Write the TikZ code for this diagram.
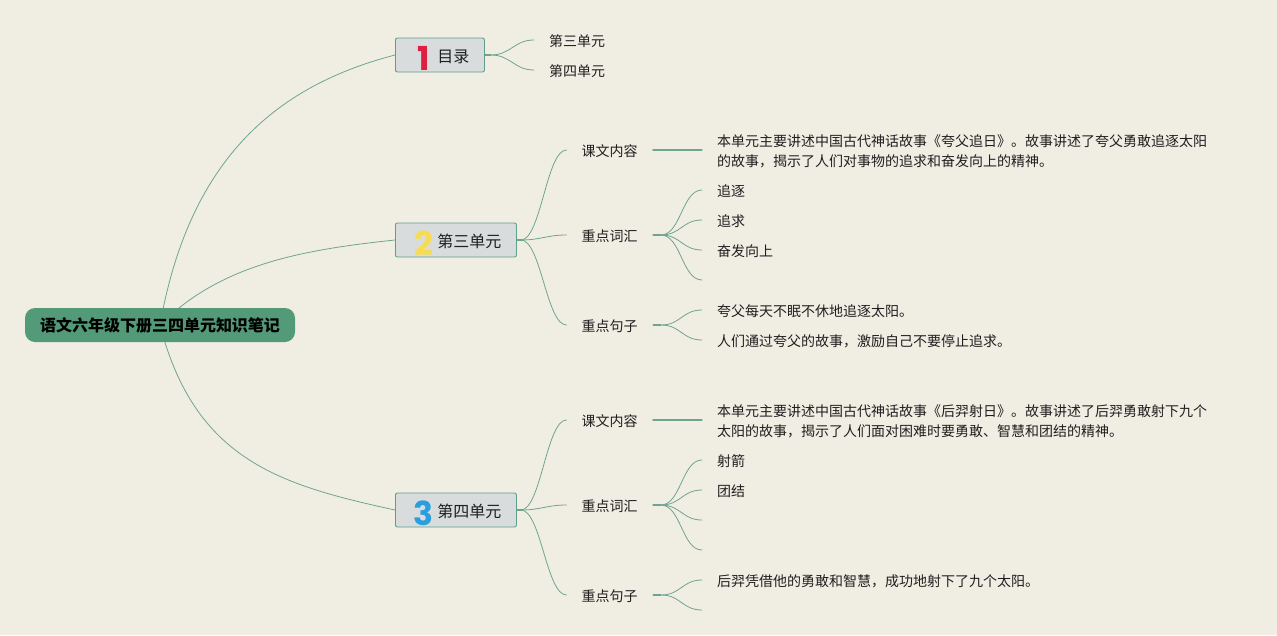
\documentclass[tikz,border=0pt]{standalone}
\usepackage{fontspec}
\setmainfont{Noto Sans CJK SC}
\newfontfamily\digitfont{Poppins}[BoldFont=* Bold]
\usetikzlibrary{backgrounds,calc}
\definecolor{paper}{HTML}{F0EDE3}
\definecolor{linkcol}{HTML}{6FA58F}
\definecolor{boxfill}{HTML}{D9DCDD}
\definecolor{boxline}{HTML}{5F9E8A}
\definecolor{rootfill}{HTML}{529A78}
\definecolor{onecol}{HTML}{DF1F3F}
\definecolor{twocol}{HTML}{F6DC52}
\definecolor{threecol}{HTML}{2A9FE0}
\newcommand{\unitlabel}[3]{\kern16pt\makebox[24pt][c]{\raisebox{-8.5pt}{\smash{\digitfont\bfseries\fontsize{33}{33}\selectfont\textcolor{#1}{#2}}}}\kern2pt#3\kern15pt}
\tikzset{
  x=1pt,y=-1pt,
  leaf/.style={font=\fontsize{14}{20}\selectfont,text=black!88,anchor=west,inner ysep=0pt,inner xsep=15pt,text height=13pt,text depth=0pt},
  para/.style={font=\fontsize{14}{20}\selectfont,text=black!88,anchor=west,inner ysep=0pt,inner xsep=15pt,align=left},
  unitbox/.style={draw=boxline,fill=boxfill,line width=0.9pt,rounded corners=2pt,anchor=west,inner xsep=0pt,inner ysep=0pt,minimum height=34pt,text height=14pt,text depth=0pt,font=\fontsize{16}{20}\selectfont,text=black!88},
  rootbox/.style={fill=rootfill,rounded corners=10pt,minimum width=270pt,minimum height=34pt,inner sep=0pt,font=\fontsize{16}{20}\selectfont\bfseries,text=black},
  link/.style={draw=linkcol,line width=0.8pt,line cap=round},
  stub/.style={draw=linkcol,line width=1.5pt},
  flow/.style={link,to path={-- ++(#1,0) .. controls +(20,0) and ($(\tikztotarget)+(-20,0)$) .. (\tikztotarget)}},
  flow/.default=8
}
\begin{document}
\begin{tikzpicture}
\useasboundingbox (0,0) rectangle (1277,635);
\node[rootbox] (root) at (160,325) {语文六年级下册三四单元知识笔记};
\node[unitbox] (u1) at (395,55) {\unitlabel{onecol}{1}{目录}};
\node[unitbox] (u2) at (395,240) {\unitlabel{twocol}{2}{第三单元}};
\node[unitbox] (u3) at (395,510) {\unitlabel{threecol}{3}{第四单元}};
\node[leaf] (a1) at (534,40) {第三单元};
\node[leaf] (a2) at (534,70) {第四单元};
\node[leaf] (b1) at (566.5,150) {课文内容};
\node[leaf] (b2) at (566.5,235) {重点词汇};
\node[leaf] (b3) at (566.5,325) {重点句子};
\node[para] (b1a) at (702,151) {本单元主要讲述中国古代神话故事《夸父追日》。故事讲述了夸父勇敢追逐太阳\\的故事，揭示了人们对事物的追求和奋发向上的精神。};
\node[leaf] (b2a) at (702,190) {追逐};
\node[leaf] (b2b) at (702,220) {追求};
\node[leaf] (b2c) at (702,250) {奋发向上};
\coordinate (b2d) at (702,280);
\node[leaf] (b3a) at (702,310) {夸父每天不眠不休地追逐太阳。};
\node[leaf] (b3b) at (702,340) {人们通过夸父的故事，激励自己不要停止追求。};
\node[leaf] (c1) at (566.5,420) {课文内容};
\node[leaf] (c2) at (566.5,505) {重点词汇};
\node[leaf] (c3) at (566.5,595) {重点句子};
\node[para] (c1a) at (702,421) {本单元主要讲述中国古代神话故事《后羿射日》。故事讲述了后羿勇敢射下九个\\太阳的故事，揭示了人们面对困难时要勇敢、智慧和团结的精神。};
\node[leaf] (c2a) at (702,460) {射箭};
\node[leaf] (c2b) at (702,490) {团结};
\coordinate (c2c) at (702,520);
\coordinate (c2d) at (702,550);
\node[leaf] (c3a) at (702,580) {后羿凭借他的勇敢和智慧，成功地射下了九个太阳。};
\coordinate (c3b) at (702,610);
\begin{scope}[on background layer]
\fill[paper] (0,0) rectangle (1277,635);
\draw[link] (root.center) .. controls (190,155) and (280,85) .. (u1.west);
\draw[link] (root.center) .. controls (220,265) and (300,250) .. (u2.west);
\draw[link] (root.center) .. controls (195,460) and (280,485) .. (u3.west);
\end{scope}
\draw[stub] (u1.east) -- ++(6,0);
\draw[stub] (u2.east) -- ++(5,0);
\draw[stub] (u3.east) -- ++(5,0);
\draw[stub] (b2.east) -- ++(8,0);
\draw[stub] (b3.east) -- ++(8,0);
\draw[stub] (c2.east) -- ++(8,0);
\draw[stub] (c3.east) -- ++(8,0);
\draw[flow=6] (u1.east) to (a1.west);
\draw[flow=6] (u1.east) to (a2.west);
\draw[flow=4] (u2.east) to (b1.west);
\draw[flow=4] (u2.east) to (b2.west);
\draw[flow=4] (u2.east) to (b3.west);
\draw[link,line width=1.2pt] (b1.east) -- (b1.east -| b1a.west);
\draw[flow] (b2.east) to (b2a.west);
\draw[flow] (b2.east) to (b2b.west);
\draw[flow] (b2.east) to (b2c.west);
\draw[flow] (b2.east) to (b2d);
\draw[flow] (b3.east) to (b3a.west);
\draw[flow] (b3.east) to (b3b.west);
\draw[flow=4] (u3.east) to (c1.west);
\draw[flow=4] (u3.east) to (c2.west);
\draw[flow=4] (u3.east) to (c3.west);
\draw[link,line width=1.2pt] (c1.east) -- (c1.east -| c1a.west);
\draw[flow] (c2.east) to (c2a.west);
\draw[flow] (c2.east) to (c2b.west);
\draw[flow] (c2.east) to (c2c);
\draw[flow] (c2.east) to (c2d);
\draw[flow] (c3.east) to (c3a.west);
\draw[flow] (c3.east) to (c3b);
\end{tikzpicture}
\end{document}
